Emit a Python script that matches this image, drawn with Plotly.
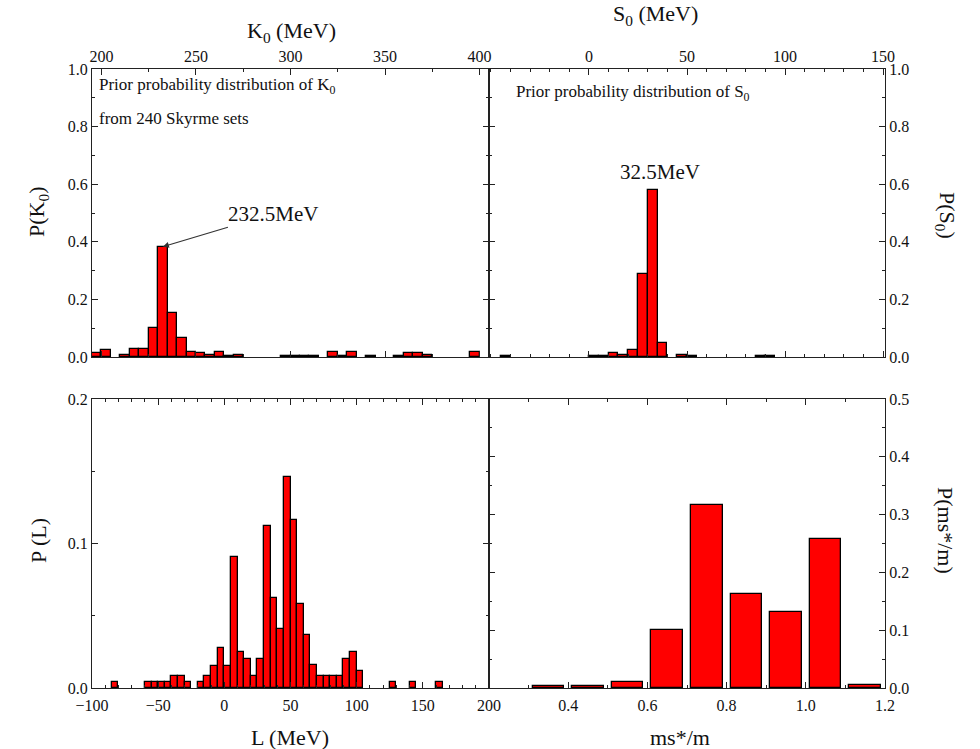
import plotly.graph_objects as go

# ---------------- data ----------------
k0_centers = [197.5, 202.5, 212.5, 217.5, 222.5, 227.5, 232.5, 237.5, 242.5, 247.5,
              252.5, 257.5, 262.5, 267.5, 272.5, 297.5, 302.5, 307.5, 312.5, 322.5,
              327.5, 332.5, 342.5, 357.5, 362.5, 367.5, 372.5, 397.5]
k0_prob = [0.0125, 0.025, 0.008, 0.029, 0.029, 0.100, 0.383, 0.154, 0.065, 0.017,
           0.0125, 0.008, 0.017, 0.004, 0.008, 0.004, 0.004, 0.004, 0.004, 0.017,
           0.004, 0.017, 0.004, 0.004, 0.0125, 0.0125, 0.008, 0.017]

s0_centers = [-42.5, 2.5, 7.5, 12.5, 17.5, 22.5, 27.5, 32.5, 37.5, 47.5, 52.5, 87.5, 92.5]
s0_prob = [0.004, 0.004, 0.004, 0.0125, 0.008, 0.025, 0.2875, 0.579, 0.050, 0.006,
           0.004, 0.004, 0.004]

l_centers = [-82.5, -57.5, -52.5, -47.5, -42.5, -37.5, -32.5, -27.5, -17.5, -12.5,
             -7.5, -2.5, 2.5, 7.5, 12.5, 17.5, 22.5, 27.5, 32.5, 37.5,
             42.5, 47.5, 52.5, 57.5, 62.5, 67.5, 72.5, 77.5, 82.5, 87.5,
             92.5, 97.5, 102.5, 127.5, 142.5, 162.5]
l_prob = [0.004, 0.004, 0.004, 0.004, 0.004, 0.008, 0.008, 0.004, 0.004, 0.008,
          0.015, 0.028, 0.015, 0.091, 0.025, 0.020, 0.008, 0.020, 0.112, 0.062,
          0.041, 0.146, 0.116, 0.058, 0.037, 0.016, 0.008, 0.008, 0.008, 0.008,
          0.020, 0.025, 0.012, 0.004, 0.004, 0.004]

ms_centers = [0.35, 0.45, 0.55, 0.65, 0.75, 0.85, 0.95, 1.05, 1.15]
ms_prob = [0.004, 0.004, 0.010, 0.100, 0.316, 0.162, 0.131, 0.258, 0.006]

k0_ticks = [200, 250, 300, 350, 400]
s0_ticks = [0, 50, 100, 150]
l_ticks = [-100, -50, 0, 50, 100, 150, 200]
ms_ticks = [0.4, 0.6, 0.8, 1.0, 1.2]

# ---------------- figure ----------------
FONT = "Liberation Serif, Times New Roman, serif"
W, H = 980, 749
L_M, R_M, T_M, B_M = 92, 95, 69, 61
PW, PH = W - L_M - R_M, H - T_M - B_M

def px(xp):
    return (xp - L_M) / PW

def py(yp):
    return (H - B_M - yp) / PH

xsplit = px(489)
top_dom = [py(357), 1.0]
bot_dom = [0.0, py(399)]

bar_style = dict(marker=dict(color="#ff0000", line=dict(color="black", width=1.3)),
                 showlegend=False, hoverinfo="x+y")

fig = go.Figure()
fig.add_trace(go.Bar(x=k0_centers, y=k0_prob, width=5, xaxis="x", yaxis="y", **bar_style))
fig.add_trace(go.Bar(x=s0_centers, y=s0_prob, width=5, xaxis="x2", yaxis="y2", **bar_style))
fig.add_trace(go.Bar(x=l_centers, y=l_prob, width=5, xaxis="x3", yaxis="y3", **bar_style))
fig.add_trace(go.Bar(x=ms_centers, y=ms_prob, width=0.08, xaxis="x4", yaxis="y4", **bar_style))

axis_common = dict(showline=True, linecolor="#222", linewidth=1.2, mirror="ticks",
                   ticks="inside", ticklen=6, tickwidth=1.2, tickcolor="#222",
                   showgrid=False, zeroline=False,
                   tickfont=dict(family=FONT, size=16, color="#111"))

def minor(dt, t0=0):
    return dict(ticks="inside", ticklen=3, tickwidth=1, tickcolor="#222", dtick=dt, tick0=t0,
                showgrid=False)

fig.update_layout(
    width=W, height=H,
    margin=dict(l=L_M, r=R_M, t=T_M, b=B_M),
    paper_bgcolor="white", plot_bgcolor="white",
    bargap=0,
    font=dict(family=FONT, color="#111"),
    xaxis=dict(domain=[0, xsplit], anchor="y", side="top", range=[195, 405],
               tickmode="array", tickvals=k0_ticks, minor=minor(25, 200), **axis_common),
    yaxis=dict(domain=top_dom, anchor="x", range=[0, 1], tickmode="linear", dtick=0.2,
               tickformat=".1f", minor=minor(0.1), **axis_common),
    xaxis2=dict(domain=[xsplit, 1], anchor="y2", side="top", range=[-51, 151],
                tickmode="array", tickvals=s0_ticks, minor=minor(10, 0), **axis_common),
    yaxis2=dict(domain=top_dom, anchor="x2", side="right", range=[0, 1], tickmode="linear",
                dtick=0.2, tickformat=".1f", minor=minor(0.1), **axis_common),
    xaxis3=dict(domain=[0, xsplit], anchor="y3", range=[-100, 200], ticklabelstandoff=3,
                tickmode="array", tickvals=l_ticks, minor=minor(10, 0), **axis_common),
    yaxis3=dict(domain=bot_dom, anchor="x3", range=[0, 0.2], tickmode="linear", dtick=0.1,
                tickformat=".1f", minor=minor(0.05), **axis_common),
    xaxis4=dict(domain=[xsplit, 1], anchor="y4", range=[0.2, 1.2], ticklabelstandoff=3,
                tickmode="array", tickvals=ms_ticks, ticktext=[f"{v:.1f}" for v in ms_ticks],
                minor=minor(0.1, 0), **axis_common),
    yaxis4=dict(domain=bot_dom, anchor="x4", side="right", range=[0, 0.5], tickmode="linear",
                dtick=0.1, tickformat=".1f", minor=minor(0.05), **axis_common),
)

def ann(text, xp, yp, size=22, angle=0, xanchor="center"):
    fig.add_annotation(text=text, x=px(xp), y=py(yp), xref="paper", yref="paper",
                       showarrow=False, textangle=angle, xanchor=xanchor, yanchor="middle",
                       font=dict(family=FONT, size=size, color="#111"))

# axis titles
ann("K<sub>0</sub> (MeV)", 291, 32)
ann("S<sub>0</sub> (MeV)", 655, 15)
ann("L (MeV)", 290, 737)
ann("ms*/m", 680, 737)
ann("P(K<sub>0</sub>)", 38, 212, angle=-90)
ann("P (L)", 38, 540, angle=-90)
ann("P(S<sub>0</sub>)", 946, 215, angle=90)
ann("P(ms*/m)", 946, 530, angle=90)

# in-panel texts
ann("Prior probability distribution of K<sub>0</sub>", 97, 86, size=17, xanchor="left")
ann("from 240 Skyrme sets", 97, 119, size=17, xanchor="left")
ann("Prior probability distribution of S<sub>0</sub>", 514, 93, size=17, xanchor="left")
ann("32.5MeV", 660, 172, size=21)

fig.add_annotation(text="232.5MeV", x=232.5, y=0.383, xref="x", yref="y",
                   showarrow=True, ax=110, ay=-33, arrowhead=2, arrowsize=1,
                   arrowwidth=1.2, arrowcolor="#333",
                   font=dict(family=FONT, size=21, color="#111"))

fig.write_html("out.html")
